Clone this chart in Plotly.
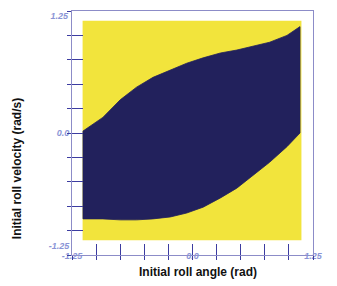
import plotly.graph_objects as go

# Boundary of the navy (stable) region
upper_x = [-1.136, -0.93, -0.75, -0.58, -0.41, -0.23, -0.06, 0.11, 0.29, 0.46, 0.63, 0.80, 0.98, 1.115]
upper_y = [0.02, 0.16, 0.34, 0.47, 0.57, 0.645, 0.715, 0.77, 0.82, 0.85, 0.89, 0.93, 1.0, 1.09]
lower_x = [-1.136, -0.93, -0.75, -0.58, -0.41, -0.23, -0.06, 0.11, 0.29, 0.46, 0.63, 0.80, 0.98, 1.115]
lower_y = [-0.88, -0.88, -0.89, -0.89, -0.88, -0.86, -0.82, -0.76, -0.665, -0.565, -0.43, -0.30, -0.14, 0.0]

# Extent of the simulated grid (yellow region)
grid_x = [-1.14, 1.13]
grid_y = [-1.10, 1.15]

tick_vals = [-1.25, -1.0, -0.75, -0.5, -0.25, 0.0, 0.25, 0.5, 0.75, 1.0, 1.25]
x_tick_text = ["-1.25", "", "", "", "", "0.0", "", "", "", "", "1.25"]
y_tick_text = ["", "", "", "", "", "0.0", "", "", "", "", ""]
y_low_text = ["-1.25", "", "", "", "", "", "", "", "", "", ""]
y_top_text = ["", "", "", "", "", "", "", "", "", "", "1.25"]
axis_range = [-1.25, 1.25]

YELLOW = "#f2e43c"
NAVY = "#22215c"

fig = go.Figure()
fig.add_trace(go.Scatter(
    x=[grid_x[0], grid_x[1], grid_x[1], grid_x[0], grid_x[0]],
    y=[grid_y[0], grid_y[0], grid_y[1], grid_y[1], grid_y[0]],
    fill="toself", fillcolor=YELLOW, mode="lines", line=dict(width=0),
    hoverinfo="skip", showlegend=False))
fig.add_trace(go.Scatter(
    x=upper_x + lower_x[::-1] + [upper_x[0]],
    y=upper_y + lower_y[::-1] + [upper_y[0]],
    fill="toself", fillcolor=NAVY, mode="lines", line=dict(width=0.8, color=NAVY),
    hoverinfo="skip", showlegend=False))
# invisible traces for overlay axes
fig.add_trace(go.Scatter(x=[0], y=[0], xaxis="x2", yaxis="y2", mode="markers",
                         marker=dict(opacity=0), hoverinfo="skip", showlegend=False))
fig.add_trace(go.Scatter(x=[0], y=[0], xaxis="x2", yaxis="y3", mode="markers",
                         marker=dict(opacity=0), hoverinfo="skip", showlegend=False))

tickfont = dict(family="Liberation Sans", size=9, color="#8a94d6", style="italic", weight="bold")
axcommon = dict(range=axis_range, showgrid=False, zeroline=False, showline=True,
                linecolor="#8c8cc8", linewidth=1, mirror=True, automargin=False,
                ticks="inside", ticklen=11, tickwidth=1, tickcolor="#3c3ca0",
                tickvals=tick_vals, tickfont=tickfont)
# page body has an 8px margin, so the figure is sized/positioned to compensate
fig.update_layout(
    width=329, height=278,
    margin=dict(l=64, r=24, t=3, b=31),
    paper_bgcolor="white", plot_bgcolor="white",
    xaxis=dict(**axcommon, ticktext=x_tick_text, ticklabelstandoff=-8),
    yaxis=dict(**axcommon, ticktext=y_tick_text),
    xaxis2=dict(range=axis_range, overlaying="x", side="bottom", showgrid=False, zeroline=False,
                showline=False, ticks="outside", ticklen=4, tickcolor="#3c3ca0", automargin=False,
                tickvals=tick_vals, showticklabels=False),
    yaxis2=dict(range=axis_range, overlaying="y", side="left", showgrid=False, zeroline=False,
                showline=False, ticks="outside", ticklen=4, tickcolor="#3c3ca0", automargin=False,
                tickvals=tick_vals, ticktext=y_low_text, tickfont=tickfont,
                ticklabelshift=-9, ticklabelstandoff=-4),
    yaxis3=dict(range=axis_range, overlaying="y", side="left", showgrid=False, zeroline=False,
                showline=False, ticks="", automargin=False,
                tickvals=tick_vals, ticktext=y_top_text, tickfont=tickfont,
                ticklabelshift=5, ticklabelstandoff=3),
    annotations=[
        dict(text="Initial roll angle (rad)", xref="paper", yref="paper", x=0.523, y=-0.07,
             xanchor="center", yanchor="middle", showarrow=False,
             font=dict(family="Liberation Sans", size=12, color="#111111", weight="bold")),
        dict(text="Initial roll velocity (rad/s)", xref="paper", yref="paper", x=-0.228, y=0.352,
             xanchor="center", yanchor="middle", showarrow=False, textangle=-90,
             font=dict(family="Liberation Sans", size=12, color="#111111", weight="bold")),
    ],
)
fig.write_html("out.html")
